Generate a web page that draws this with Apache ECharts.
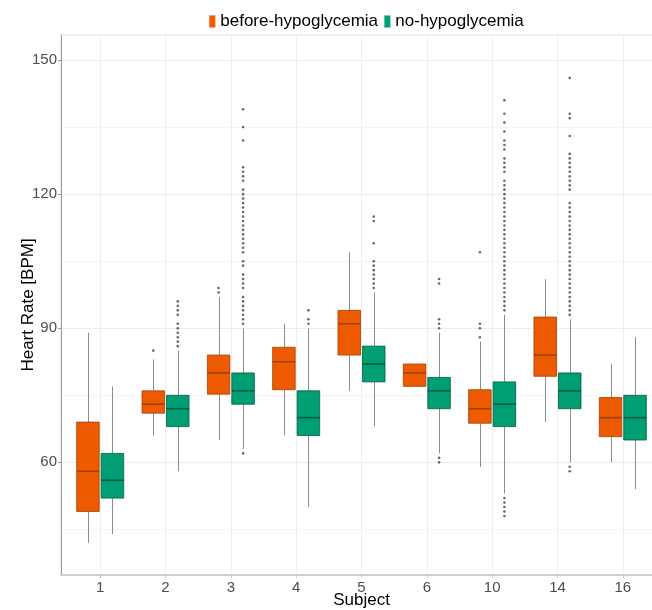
<!DOCTYPE html>
<html>
<head>
<meta charset="utf-8">
<script src="https://cdn.jsdelivr.net/npm/echarts@6/dist/echarts.min.js"></script>
<style>
html,body{margin:0;padding:0;background:#fff;}
#chart{width:652px;height:610px;}
</style>
</head>
<body>
<div id="chart"></div>
<script>
// ---------------- data ----------------
const subjects = ['1', '2', '3', '4', '5', '6', '10', '14', '16'];
const yTicks = [60, 90, 120, 150];
const yMinorTicks = [45, 75, 105, 135];

// before-hypoglycemia
const beforeMin    = [42, 66, 65, 66, 76, 77, 59, 69, 60];
const beforeQ1     = [49, 71, 75.25, 76.25, 84, 77, 68.75, 79.25, 65.75];
const beforeMedian = [58, 73, 80, 82.5, 91, 80, 72, 84, 70];
const beforeQ3     = [69, 76, 84, 85.75, 94, 82, 76.25, 92.5, 74.5];
const beforeMax    = [89, 83, 97, 91, 107, 82, 87, 101, 82];
const beforeOutliers = [
  [],
  [85],
  [98, 99],
  [],
  [],
  [],
  [88, 90, 91, 107],
  [],
  []
];

// no-hypoglycemia
const noMin    = [44, 58, 63, 50, 68, 62, 53, 60, 54];
const noQ1     = [52, 68, 73, 66, 78, 72, 68, 72, 65];
const noMedian = [56, 72, 76, 70, 82, 76, 73, 76, 70];
const noQ3     = [62, 75, 80, 76, 86, 79, 78, 80, 75];
const noMax    = [77, 85, 90, 90, 98, 89, 93, 92, 88];
const noOutliers = [
  [],
  [86, 87, 88, 89, 90, 91, 93, 94, 95, 96],
  [62, 91, 92, 93, 94, 95, 96, 97, 99, 100, 101, 102, 104, 105, 107, 108, 109, 110, 111, 112, 113, 114, 115, 116, 117, 118, 119, 120, 121, 123, 124, 125, 126, 132, 135, 139],
  [91, 92, 94],
  [99, 100, 101, 102, 103, 104, 105, 109, 114, 115],
  [60, 61, 90, 91, 92, 100, 101],
  [48, 49, 50, 51, 52, 94, 95, 96, 97, 98, 99, 100, 101, 102, 103, 104, 105, 106, 107, 108, 109, 110, 111, 112, 113, 114, 115, 116, 117, 118, 119, 120, 121, 122, 123, 125, 126, 127, 128, 130, 131, 132, 134, 136, 138, 141],
  [58, 59, 93, 94, 95, 96, 97, 98, 99, 100, 101, 102, 103, 104, 105, 106, 107, 108, 109, 110, 111, 112, 113, 114, 115, 116, 117, 118, 121, 122, 123, 124, 125, 126, 127, 128, 129, 133, 137, 138, 146],
  []
];

// ---------------- styling ----------------
const FONT = 'Liberation Sans, Arial, sans-serif';
const ORANGE = '#EE5A00', ORANGE_LINE = '#9A420A';
const GREEN = '#009E73', GREEN_LINE = '#005C43';
const DODGE = 0.1875;
const BOX_W = 0.345;
const Y_MIN = 34.8, Y_MAX = 155.6;

function boxRows(mins, q1s, meds, q3s, maxs) {
  return subjects.map((s, i) => [i + 1, mins[i], q1s[i], meds[i], q3s[i], maxs[i]]);
}
function outlierRows(list, offset) {
  const rows = [];
  list.forEach((vals, i) => vals.forEach(v => rows.push([i + 1 + offset, v])));
  return rows;
}
function makeRender(offset, fill, stroke) {
  return function (params, api) {
    const x = api.value(0) + offset;
    const pLo = api.coord([x, api.value(1)]);
    const pQ1 = api.coord([x, api.value(2)]);
    const pMed = api.coord([x, api.value(3)]);
    const pQ3 = api.coord([x, api.value(4)]);
    const pHi = api.coord([x, api.value(5)]);
    const w = api.size([BOX_W, 0])[0];
    const cx = Math.round(pHi[0]) + 0.5;
    const left = pQ3[0] - w / 2;
    const wl = { stroke: '#8c8c8c', lineWidth: 1 };
    return {
      type: 'group',
      children: [
        { type: 'line', shape: { x1: cx, y1: pHi[1], x2: cx, y2: pQ3[1] }, style: wl },
        { type: 'line', shape: { x1: cx, y1: pQ1[1], x2: cx, y2: pLo[1] }, style: wl },
        { type: 'rect', shape: { x: left, y: pQ3[1], width: w, height: pQ1[1] - pQ3[1] },
          style: { fill: fill, stroke: stroke, lineWidth: 0.8 } },
        { type: 'line', shape: { x1: left, y1: pMed[1], x2: left + w, y2: pMed[1] },
          style: { stroke: stroke, lineWidth: 1.6 } }
      ]
    };
  };
}

const chart = echarts.init(document.getElementById('chart'), null, { renderer: 'canvas' });
const catValues = subjects.map((s, i) => i + 1);

const option = {
  animation: false,
  backgroundColor: '#ffffff',
  textStyle: { fontFamily: FONT },
  legend: {
    left: 204,
    top: 8,
    itemWidth: 6,
    itemHeight: 12,
    itemGap: 6,
    textStyle: { fontFamily: FONT, fontSize: 17, color: '#000' },
    data: [
      { name: 'before-hypoglycemia', icon: 'rect', itemStyle: { color: ORANGE, borderColor: '#d9a27f', borderWidth: 0.5 } },
      { name: 'no-hypoglycemia', icon: 'rect', itemStyle: { color: GREEN, borderColor: '#7fc4b0', borderWidth: 0.5 } }
    ]
  },
  grid: {
    left: 61, top: 35, width: 601, height: 540,
    outerBoundsMode: 'none', containLabel: false,
    show: true, borderColor: '#e4e4e4', borderWidth: 1
  },
  xAxis: {
    type: 'value',
    min: 0.4,
    max: 9.6,
    name: 'Subject',
    nameLocation: 'middle',
    nameGap: 17,
    nameMoveOverlap: false,
    nameTextStyle: { fontFamily: FONT, fontSize: 17, color: '#000', verticalAlign: 'top' },
    axisLine: { show: true, lineStyle: { color: '#cfcfcf', width: 2 } },
    axisTick: { show: true, length: 3, customValues: catValues, lineStyle: { color: '#cfcfcf' } },
    axisLabel: {
      customValues: catValues,
      margin: 5,
      fontFamily: FONT, fontSize: 15, color: '#4d4d4d',
      formatter: v => subjects[Math.round(v) - 1]
    },
    splitLine: { show: true, lineStyle: { color: '#efefef', width: 1 } }
  },
  yAxis: [
    {
      type: 'value',
      min: Y_MIN,
      max: Y_MAX,
      name: 'Heart Rate [BPM]',
      nameLocation: 'middle',
      nameGap: 24,
      nameMoveOverlap: false,
      nameTextStyle: { fontFamily: FONT, fontSize: 17, color: '#000' },
      axisLine: { show: true, lineStyle: { color: '#9a9a9a', width: 1 } },
      axisTick: { show: true, length: 3, customValues: yTicks, lineStyle: { color: '#9a9a9a' } },
      axisLabel: { customValues: yTicks, margin: 4, fontFamily: FONT, fontSize: 15, color: '#4d4d4d' },
      splitLine: { show: true, lineStyle: { color: '#ececec', width: 1 } }
    },
    {
      type: 'value',
      min: Y_MIN,
      max: Y_MAX,
      position: 'left',
      z: -1,
      axisLine: { show: false },
      axisTick: { show: false, customValues: yMinorTicks },
      axisLabel: { show: false, customValues: yMinorTicks },
      splitLine: { show: true, lineStyle: { color: '#f5f5f5', width: 1 } }
    }
  ],
  series: [
    {
      name: 'before-hypoglycemia',
      type: 'custom',
      itemStyle: { color: ORANGE },
      renderItem: makeRender(-DODGE, ORANGE, ORANGE_LINE),
      encode: { x: 0, y: [1, 2, 3, 4, 5] },
      data: boxRows(beforeMin, beforeQ1, beforeMedian, beforeQ3, beforeMax),
      z: 3
    },
    {
      name: 'no-hypoglycemia',
      type: 'custom',
      itemStyle: { color: GREEN },
      renderItem: makeRender(DODGE, GREEN, GREEN_LINE),
      encode: { x: 0, y: [1, 2, 3, 4, 5] },
      data: boxRows(noMin, noQ1, noMedian, noQ3, noMax),
      z: 3
    },
    {
      name: 'before-hypoglycemia',
      type: 'scatter',
      symbol: 'circle',
      symbolSize: 2.6,
      itemStyle: { color: '#444' },
      data: outlierRows(beforeOutliers, -DODGE),
      z: 4
    },
    {
      name: 'no-hypoglycemia',
      type: 'scatter',
      symbol: 'circle',
      symbolSize: 2.6,
      itemStyle: { color: '#444' },
      data: outlierRows(noOutliers, DODGE),
      z: 4
    }
  ]
};
chart.setOption(option);
</script>
</body>
</html>
